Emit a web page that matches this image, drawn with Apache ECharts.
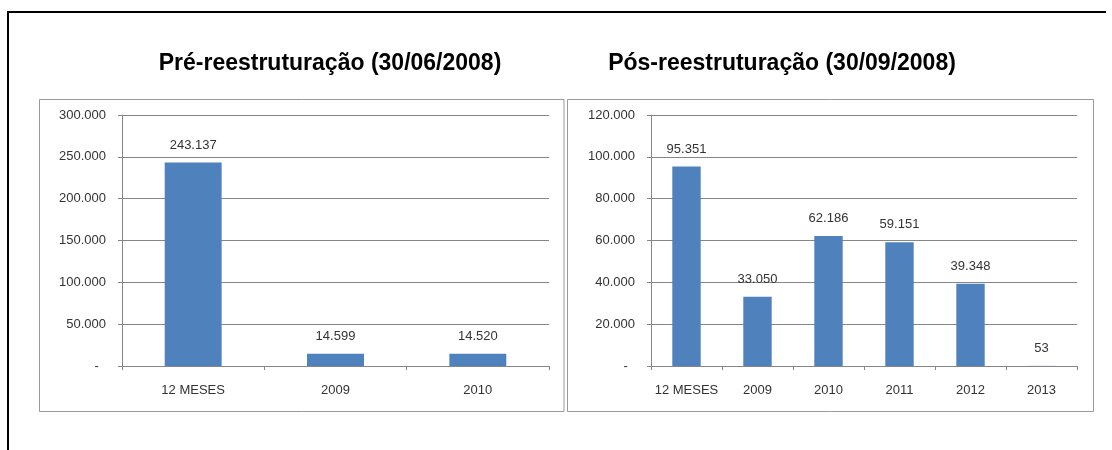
<!DOCTYPE html>
<html>
<head>
<meta charset="utf-8">
<script src="https://cdn.jsdelivr.net/npm/echarts@6/dist/echarts.min.js"></script>
<style>
  html, body { margin: 0; padding: 0; background: #fff; }
  #main { width: 1112px; height: 450px; }
</style>
</head>
<body>
<div id="main"></div>
<script>
// antes da reestruturação
var catPre = ['12 MESES', '2009', '2010'];
var valPre = [243137, 14599, 14520];
// depois da reestruturação
var catPos = ['12 MESES', '2009', '2010', '2011', '2012', '2013'];
var valPos = [95351, 33050, 62186, 59151, 39348, 53];

var titlePre = 'Pré-reestruturação (30/06/2008)';
var titlePos = 'Pós-reestruturação (30/09/2008)';

var barColor = '#4f81bd';
var axisColor = '#868686';
var txtColor = '#333333';
var fontFam = '"Liberation Sans", Arial, sans-serif';

// formato brasileiro, zero vira "-"
function fmt(v) {
	if (v == 0) return '-  ';
	return String(Math.round(v)).replace(/\B(?=(\d{3})+(?!\d))/g, '.');
}

function yAxisOf(idx, max, step) {
	return {
		type : 'value',
		gridIndex : idx,
		min : 0,
		max : max,
		interval : step,
		axisLine : { show : true, lineStyle : { color : axisColor } },
		axisTick : { show : true, length : 4, lineStyle : { color : axisColor } },
		splitLine : { lineStyle : { color : axisColor, width : 1 } },
		axisLabel : {
			margin : 16,
			color : txtColor,
			fontFamily : fontFam,
			fontSize : 13,
			formatter : fmt
		}
	};
}

function xAxisOf(idx, cats) {
	return {
		type : 'category',
		gridIndex : idx,
		data : cats,
		axisLine : { lineStyle : { color : axisColor } },
		axisTick : { show : true, length : 4, lineStyle : { color : axisColor } },
		axisLabel : {
			interval : 0,
			margin : 18,
			color : txtColor,
			fontFamily : fontFam,
			fontSize : 13
		}
	};
}

function barOf(idx, vals) {
	return {
		type : 'bar',
		xAxisIndex : idx,
		yAxisIndex : idx,
		data : vals,
		barWidth : '40%',
		itemStyle : { color : barColor },
		label : {
			show : true,
			position : 'top',
			distance : 11,
			color : txtColor,
			fontFamily : fontFam,
			fontSize : 13,
			formatter : function(p) { return fmt(p.value); }
		}
	};
}

var chart = echarts.init(document.getElementById('main'));
var option = {
	animation : false,
	backgroundColor : '#fff',
	title : [{
		text : titlePre,
		left : 325,
		top : 47,
		textAlign : 'center',
		textStyle : { fontSize : 23, fontWeight : 'bold', color : '#000', fontFamily : fontFam }
	}, {
		text : titlePos,
		left : 777,
		top : 47,
		textAlign : 'center',
		textStyle : { fontSize : 23, fontWeight : 'bold', color : '#000', fontFamily : fontFam }
	}],
	graphic : [
		// moldura externa
		{ type : 'line', shape : { x1 : 7, y1 : 12, x2 : 1106, y2 : 12 }, style : { stroke : '#000', lineWidth : 2 } },
		{ type : 'line', shape : { x1 : 8, y1 : 11, x2 : 8, y2 : 450 }, style : { stroke : '#000', lineWidth : 2 } },
		// caixas dos graficos
		{ type : 'rect', shape : { x : 39.5, y : 99.5, width : 524.5, height : 312 }, style : { fill : 'none', stroke : '#9a9a9a', lineWidth : 1 } },
		{ type : 'rect', shape : { x : 567.5, y : 99.5, width : 526, height : 312 }, style : { fill : 'none', stroke : '#9a9a9a', lineWidth : 1 } }
	],
	grid : [
		{ left : 122, top : 115, width : 427, height : 251 },
		{ left : 651, top : 115, width : 426, height : 251 }
	],
	xAxis : [ xAxisOf(0, catPre), xAxisOf(1, catPos) ],
	yAxis : [ yAxisOf(0, 300000, 50000), yAxisOf(1, 120000, 20000) ],
	series : [ barOf(0, valPre), barOf(1, valPos) ]
};
chart.setOption(option);
</script>
</body>
</html>
